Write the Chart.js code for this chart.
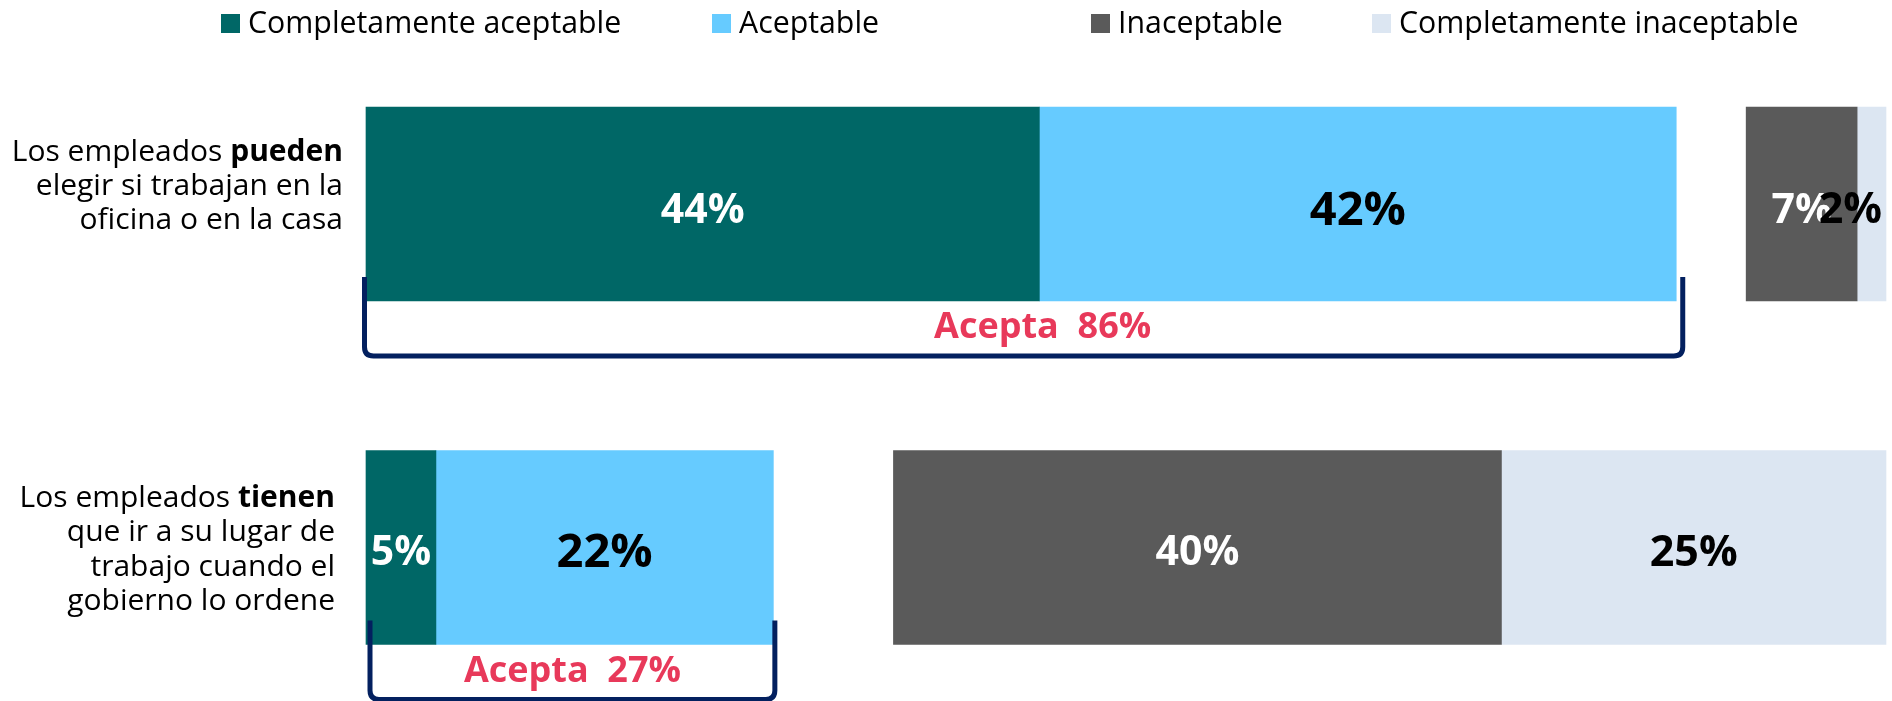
<!DOCTYPE html>
<html>
<head>
<meta charset="utf-8">
<title>Trabajo en la oficina o en la casa</title>
<script src="https://cdn.jsdelivr.net/npm/chart.js@4/dist/chart.umd.min.js"></script>
<style>
  body { margin: 0; background: #ffffff; }
  #wrap { width: 1892px; height: 701px; position: relative; }
</style>
</head>
<body>
<div id="wrap"><canvas id="myChart"></canvas></div>
<script>
// Category labels, one line per entry, **bold** parts marked
const categories = [
  ['Los empleados **pueden**', 'elegir si trabajan en la', 'oficina o en la casa'],
  ['Los empleados **tienen**', 'que ir a su lugar de', 'trabajo cuando el', 'gobierno lo ordene']
];

// Series values (percent)
const completamenteAceptable = [44.3, 4.6];
const aceptable = [41.9, 22.2];
const sinRespuesta = [4.6, 7.9]; // the blank gap between accept and reject
const inaceptable = [7.3, 40.0];
const completamenteInaceptable = [1.9, 25.3];

const seriesNames = ['Completamente aceptable', 'Aceptable', 'Inaceptable', 'Completamente inaceptable'];
const seriesColors = ['#006766', '#66CBFF', '#5A5A5A', '#DCE6F2'];
const labelColors = ['#ffffff', '#000000', '#ffffff', '#000000'];
const labelSizes = [41, 47, 41, 43]; // label font size per series

const FONT = '"Open Sans", "Segoe UI", sans-serif';

// Legend drawn on the canvas, items placed like the original slide
const legendPlugin = {
  id: 'slideLegend',
  afterDraw(chart) {
    const c = chart.ctx;
    const xs = [221, 712, 1091, 1372]; // left edge of each legend box
    c.save();
    c.font = '30.3px ' + FONT;
    c.textBaseline = 'alphabetic';
    c.textAlign = 'left';
    seriesNames.forEach((name, i) => {
      c.fillStyle = seriesColors[i];
      c.fillRect(xs[i], 14, 19, 19);
      c.fillStyle = '#000000';
      c.fillText(name, xs[i] + 27, 33);
    });
    c.restore();
  }
};

// Category labels with mixed regular / bold text
const categoryPlugin = {
  id: 'richCategories',
  afterDraw(chart) {
    const c = chart.ctx;
    const yScale = chart.scales.y;
    const rightX = [343, 335]; // right edge of each label block
    const shiftY = [-20, 0];
    const lineH = 34.3;
    c.save();
    c.textBaseline = 'alphabetic';
    c.textAlign = 'left';
    c.fillStyle = '#000000';
    categories.forEach((lines, i) => {
      const center = yScale.getPixelForValue(i) + shiftY[i];
      lines.forEach((line, j) => {
        const parts = line.split('**'); // odd parts are bold
        let width = 0;
        parts.forEach((p, k) => {
          c.font = (k % 2 ? 'bold ' : '') + '30px ' + FONT;
          width += c.measureText(p).width;
        });
        let x = rightX[i] - width;
        const baseline = center + (j - (lines.length - 1) / 2) * lineH + 11;
        parts.forEach((p, k) => {
          c.font = (k % 2 ? 'bold ' : '') + '30px ' + FONT;
          c.fillText(p, x, baseline);
          x += c.measureText(p).width;
        });
      });
    });
    c.restore();
  }
};

// Percent labels inside the bar segments
const valueLabelPlugin = {
  id: 'valueLabels',
  afterDatasetsDraw(chart) {
    const c = chart.ctx;
    const area = chart.chartArea;
    c.save();
    c.textAlign = 'center';
    c.textBaseline = 'alphabetic';
    chart.data.datasets.forEach((ds, d) => {
      if (ds.colorIndex === undefined) return; // skip the blank gap
      const size = labelSizes[ds.colorIndex];
      c.font = 'bold ' + size + 'px ' + FONT;
      const meta = chart.getDatasetMeta(d);
      meta.data.forEach((bar, i) => {
        const text = Math.round(ds.data[i]) + '%';
        const w = c.measureText(text).width;
        let x = (bar.x + bar.base) / 2;
        if (x + w / 2 > area.right - 4) x = area.right - 4 - w / 2; // keep it inside
        c.fillStyle = labelColors[ds.colorIndex];
        c.fillText(text, x, bar.y + [4, 3][i] + size * 0.36);
      });
    });
    c.restore();
  }
};

// Bracket under the accepting share with its total
const bracketPlugin = {
  id: 'acceptBracket',
  afterDatasetsDraw(chart) {
    const c = chart.ctx;
    const xScale = chart.scales.x;
    const meta = chart.getDatasetMeta(0);
    const padL = [-1.5, 4];
    const padR = [6.5, 1.5];
    const textShift = [19, 0];
    const r = 9;
    c.save();
    meta.data.forEach((bar, i) => {
      const total = Math.round(completamenteAceptable[i]) + Math.round(aceptable[i]);
      const left = xScale.getPixelForValue(0) + padL[i];
      const right = xScale.getPixelForValue(completamenteAceptable[i] + aceptable[i]) + padR[i];
      const barBottom = bar.y + bar.height / 2;
      const top = barBottom - 24;
      const bottom = barBottom + 55;

      c.strokeStyle = '#03205F';
      c.lineWidth = 5;
      c.beginPath();
      c.moveTo(left, top);
      c.lineTo(left, bottom - r);
      c.quadraticCurveTo(left, bottom, left + r, bottom);
      c.lineTo(right - r, bottom);
      c.quadraticCurveTo(right, bottom, right, bottom - r);
      c.lineTo(right, top);
      c.stroke();

      c.font = 'bold 36px ' + FONT;
      c.fillStyle = '#E8395A';
      c.textAlign = 'center';
      c.textBaseline = 'alphabetic';
      c.fillText('Acepta  ' + total + '%', (left + right) / 2 + textShift[i], barBottom + 37);
    });
    c.restore();
  }
};

function makeSet(label, data, colorIndex) {
  return {
    label: label,
    data: data,
    backgroundColor: seriesColors[colorIndex],
    borderWidth: 0,
    barThickness: 194,
    clip: false,
    colorIndex: colorIndex
  };
}

const ctx = document.getElementById('myChart').getContext('2d');
const myChart = new Chart(ctx, {
  type: 'bar',
  data: {
    labels: categories.map(lines => lines.join(' ').replace(/\*\*/g, '')),
    datasets: [
      makeSet(seriesNames[0], completamenteAceptable, 0),
      makeSet(seriesNames[1], aceptable, 1),
      { label: 'gap', data: sinRespuesta, backgroundColor: 'rgba(0,0,0,0)', borderWidth: 0, barThickness: 194, clip: false },
      makeSet(seriesNames[2], inaceptable, 2),
      makeSet(seriesNames[3], completamenteInaceptable, 3)
    ]
  },
  options: {
    indexAxis: 'y',
    responsive: true,
    maintainAspectRatio: false,
    animation: false,
    events: [],
    layout: { padding: { left: 366, right: 6, top: 204, bottom: 153.5 } },
    scales: {
      x: { stacked: true, min: 0, max: 100, display: false },
      y: { stacked: true, display: false, offset: false }
    },
    plugins: {
      legend: { display: false },
      tooltip: { enabled: false }
    }
  },
  plugins: [legendPlugin, categoryPlugin, valueLabelPlugin, bracketPlugin]
});
</script>
</body>
</html>
